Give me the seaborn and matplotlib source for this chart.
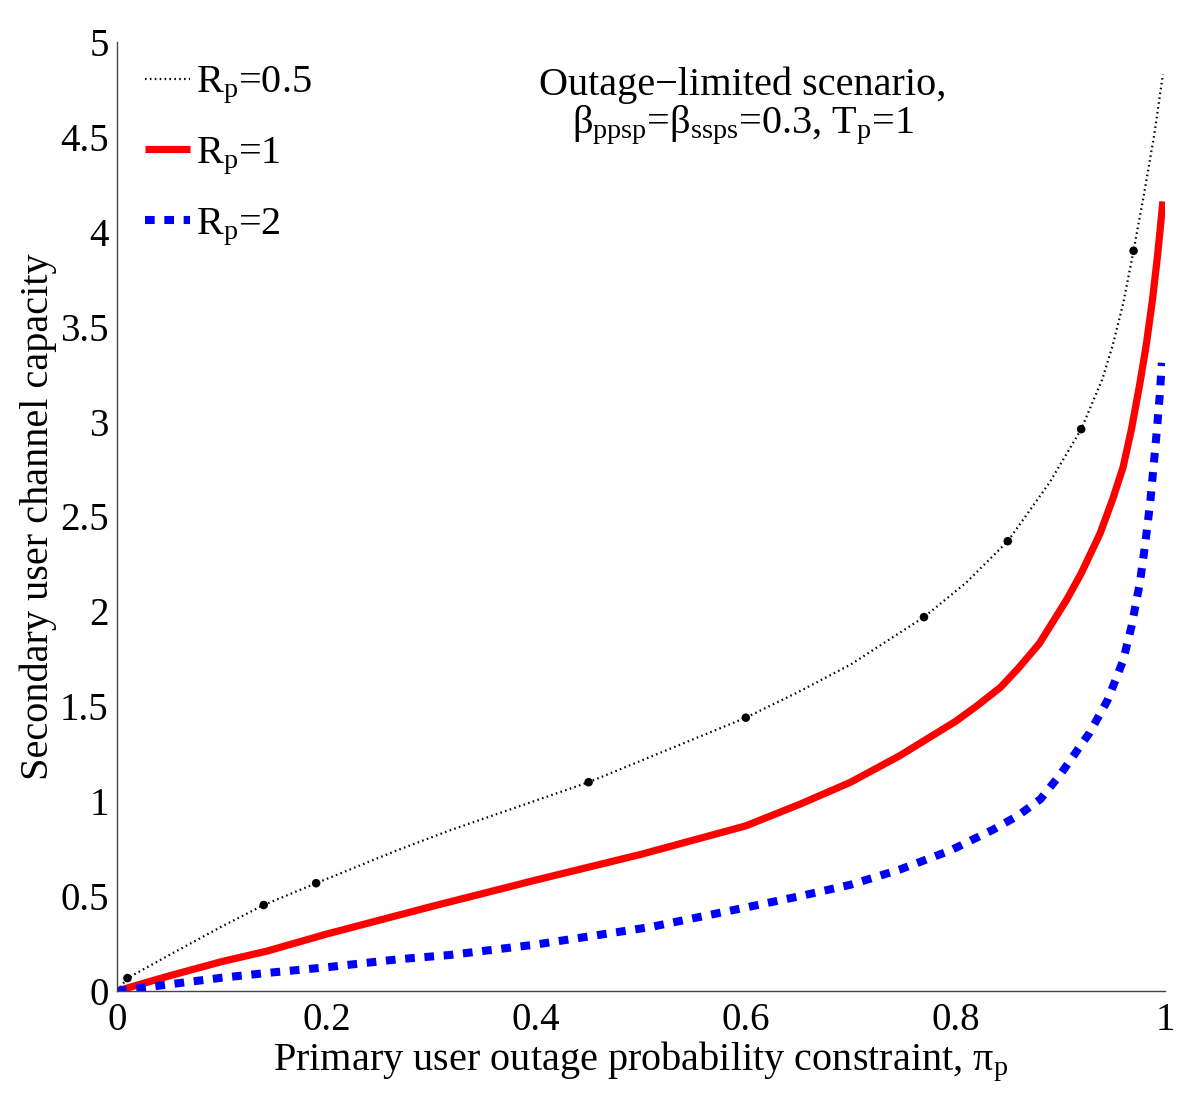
import numpy as np
import pandas as pd
import matplotlib
matplotlib.use("Agg")
import matplotlib.pyplot as plt
import seaborn as sns

# ---------------- data ----------------
x_r05 = [0, 0.01, 0.05, 0.1, 0.14, 0.19, 0.27, 0.318, 0.45, 0.6, 0.65, 0.7,
         0.77, 0.81, 0.85, 0.89, 0.92, 0.94, 0.95, 0.96, 0.97, 0.98, 0.99, 0.998]
y_r05 = [0, 0.068, 0.19, 0.34, 0.453, 0.568, 0.747, 0.847, 1.10, 1.44, 1.575,
         1.72, 1.97, 2.15, 2.37, 2.68, 2.96, 3.22, 3.40, 3.62, 3.90, 4.20,
         4.52, 4.83]

mark_x = [0.01, 0.14, 0.19, 0.45, 0.60, 0.77, 0.85, 0.92, 0.97]
mark_y = [0.068, 0.453, 0.568, 1.10, 1.44, 1.97, 2.37, 2.96, 3.90]

x_r1 = [0, 0.05, 0.1, 0.143, 0.2, 0.3, 0.4, 0.5, 0.6, 0.652, 0.7, 0.747, 0.8,
        0.82, 0.843, 0.86, 0.88, 0.906, 0.92, 0.938, 0.95, 0.96, 0.968, 0.976,
        0.982, 0.988, 0.993, 0.998]
y_r1 = [0, 0.08, 0.155, 0.21, 0.30, 0.445, 0.585, 0.72, 0.87, 0.985, 1.10,
        1.24, 1.42, 1.50, 1.60, 1.70, 1.83, 2.06, 2.20, 2.41, 2.59, 2.76, 2.96,
        3.20, 3.40, 3.64, 3.88, 4.16]

x_r2 = [0, 0.05, 0.1, 0.143, 0.2, 0.27, 0.318, 0.4, 0.509, 0.6, 0.652, 0.7,
        0.747, 0.795, 0.836, 0.86, 0.881, 0.9, 0.928, 0.945, 0.96, 0.968, 0.976,
        0.981, 0.986, 0.992, 0.995, 0.997]
y_r2 = [0, 0.035, 0.07, 0.095, 0.125, 0.168, 0.19, 0.245, 0.337, 0.44, 0.50,
        0.56, 0.64, 0.74, 0.85, 0.925, 1.01, 1.14, 1.36, 1.53, 1.74, 1.92, 2.15,
        2.35, 2.58, 2.94, 3.14, 3.31]

x_ticks = [0, 0.2, 0.4, 0.6, 0.8, 1]
x_ticklabels = ["0", "0.2", "0.4", "0.6", "0.8", "1"]
y_ticks = [0, 0.5, 1, 1.5, 2, 2.5, 3, 3.5, 4, 4.5, 5]
y_ticklabels = ["0", "0.5", "1", "1.5", "2", "2.5", "3", "3.5", "4", "4.5", "5"]

labels = ["R$_\\mathrm{p}$=0.5", "R$_\\mathrm{p}$=1", "R$_\\mathrm{p}$=2"]

# ---------------- style ----------------
sns.set_style("white")
plt.rcParams["font.family"] = ["Liberation Serif", "DejaVu Serif"]
plt.rcParams["mathtext.fontset"] = "custom"
plt.rcParams["mathtext.rm"] = "Liberation Serif"
plt.rcParams["mathtext.it"] = "Liberation Serif:italic"
plt.rcParams["mathtext.bf"] = "Liberation Serif:bold"
plt.rcParams["text.color"] = "black"
plt.rcParams["axes.labelcolor"] = "black"

fig = plt.figure(figsize=(12, 11.15), dpi=100)
ax = fig.add_axes([117 / 1200, 1 - 991 / 1115, 1048 / 1200, (991 - 42) / 1115])

df05 = pd.DataFrame({"x": x_r05, "y": y_r05})
df1 = pd.DataFrame({"x": x_r1, "y": y_r1})
df2 = pd.DataFrame({"x": x_r2, "y": y_r2})
dfm = pd.DataFrame({"x": mark_x, "y": mark_y})

sns.lineplot(data=df05, x="x", y="y", ax=ax, color="black", lw=1.6,
             linestyle=(0, (0.7, 1.5)), sort=False, estimator=None, label=labels[0])
sns.lineplot(data=df1, x="x", y="y", ax=ax, color="#ff0000", lw=5.2,
             solid_capstyle="butt", sort=False, estimator=None, label=labels[1])
sns.lineplot(data=df2, x="x", y="y", ax=ax, color="#0000ff", lw=5.8,
             linestyle=(0, (1.2, 1.2)), dash_capstyle="butt", sort=False,
             estimator=None, label=labels[2])
sns.scatterplot(data=dfm, x="x", y="y", ax=ax, color="black", s=38,
                edgecolor="none", zorder=5, legend=False)

ax.set_xlim(0, 1)
ax.set_ylim(0, 5)
ax.set_xticks(x_ticks)
ax.set_xticklabels(x_ticklabels)
ax.set_yticks(y_ticks)
ax.set_yticklabels(y_ticklabels)
ax.tick_params(direction="in", length=7, width=1, labelsize=28, pad=6,
               colors="#333333", labelcolor="black")
ax.tick_params(axis="x", pad=8)

for s in ["top", "right"]:
    ax.spines[s].set_visible(False)
for s in ["left", "bottom"]:
    ax.spines[s].set_color("#444444")
    ax.spines[s].set_linewidth(1.0)

ax.set_xlabel("Primary user outage probability constraint, π$_\\mathrm{p}$",
              fontsize=29)
ax.xaxis.set_label_coords(0.5, -0.051)
ax.set_ylabel("Secondary user channel capacity", fontsize=29)
ax.yaxis.set_label_coords(-0.057, 0.5)

ax.text(0.597, 0.944, "Outage\u2212limited scenario,", transform=ax.transAxes,
        ha="center", va="baseline", fontsize=29)
ax.text(0.597, 0.904,
        "β$_\\mathrm{ppsp}$=β$_\\mathrm{ssps}$=0.3, T$_\\mathrm{p}$=1",
        transform=ax.transAxes, ha="center", va="baseline", fontsize=29)

handles = ax.get_lines()[:3]
leg = ax.legend(handles=handles, labels=labels, loc="upper left",
                bbox_to_anchor=(0.0, 1.006), frameon=False, fontsize=29,
                handlelength=1.1, handletextpad=0.15, labelspacing=0.72,
                borderaxespad=0.3)

fig.savefig("out.png", dpi=100, facecolor="white")
